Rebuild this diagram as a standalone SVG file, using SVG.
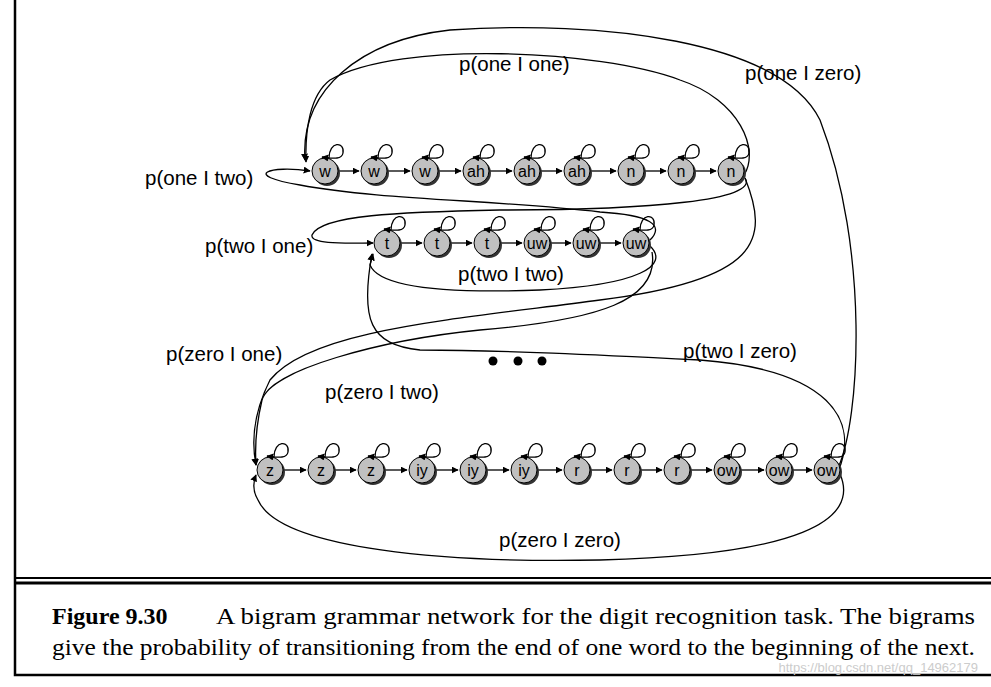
<svg xmlns="http://www.w3.org/2000/svg" width="991" height="687" viewBox="0 0 991 687">
<defs>
<marker id="ah" viewBox="0 0 10 10" refX="9" refY="5" markerWidth="7" markerHeight="7" orient="auto-start-reverse" markerUnits="userSpaceOnUse"><path d="M0,0 L10,5 L0,10 z" fill="#000"/></marker>
<g id="nd"><circle cx="2" cy="2" r="13" fill="#333"/><circle r="13" fill="#c0c0c0" stroke="#000" stroke-width="1"/></g>
<path id="sl" d="M4,-13 C4,-30 20,-30 18,-18 C17,-12 10,-12 -3,-14" fill="none" stroke="#000" stroke-width="1.3" marker-end="url(#ah)"/>
</defs>
<style>
.c{fill:none;stroke:#000;stroke-width:1.3}
.a{marker-end:url(#ah)}
.l{font-family:"Liberation Sans",Arial,sans-serif;font-size:20.5px;fill:#000}
.n{font-family:"Liberation Sans",Arial,sans-serif;font-size:16px;fill:#000;text-anchor:middle}
.cap{font-family:"Liberation Serif","Times New Roman",serif;font-size:24px;fill:#000}
</style>
<rect width="991" height="687" fill="#fff"/>
<g id="frame" fill="none" stroke="#000">
<path d="M15,0 V675 H991" stroke-width="2.5"/>
<line x1="15" y1="578" x2="991" y2="578" stroke-width="2"/>
<line x1="15" y1="583" x2="991" y2="583" stroke-width="3"/>
</g>
<g id="connectors">
<g class="c a">
<line x1="339" y1="171" x2="359" y2="171"/><line x1="388" y1="171" x2="410" y2="171"/><line x1="439" y1="171" x2="461" y2="171"/><line x1="490" y1="171" x2="512" y2="171"/><line x1="541" y1="171" x2="562" y2="171"/><line x1="591" y1="171" x2="616" y2="171"/><line x1="645" y1="171" x2="666" y2="171"/><line x1="695" y1="171" x2="716" y2="171"/>
<line x1="401" y1="243" x2="422" y2="243"/><line x1="451" y1="243" x2="472" y2="243"/><line x1="501" y1="243" x2="522" y2="243"/><line x1="551" y1="243" x2="571" y2="243"/><line x1="600" y1="243" x2="621" y2="243"/>
<line x1="284" y1="470" x2="306" y2="470"/><line x1="335" y1="470" x2="356" y2="470"/><line x1="385" y1="470" x2="407" y2="470"/><line x1="436" y1="470" x2="458" y2="470"/><line x1="487" y1="470" x2="509" y2="470"/><line x1="538" y1="470" x2="562" y2="470"/><line x1="591" y1="470" x2="612" y2="470"/><line x1="641" y1="470" x2="662" y2="470"/><line x1="691" y1="470" x2="712" y2="470"/><line x1="741" y1="470" x2="764" y2="470"/><line x1="793" y1="470" x2="812" y2="470"/>
</g>
<g class="c a">
<path d="M744,175 C760,150 740,100 680,80 C600,50 400,40 330,80 C310,95 305,130 306,162"/>
<path d="M838,468 C860,420 870,250 820,120 C780,40 600,20 450,30 C360,40 300,90 305,160"/>
<path d="M650,240 C665,225 650,215 600,212 C500,200 380,200 300,185 C240,175 270,165 310,171"/>
<path d="M745,178 C760,200 650,210 500,210 C400,212 320,215 312,235 C310,245 350,243 373,243"/>
<path d="M650,246 C670,265 640,285 540,290 C460,293 380,290 370,265 L373,254"/>
<path d="M838,472 C860,420 830,370 700,360 C600,355 500,350 420,350 C370,345 360,320 372,254"/>
<path d="M745,178 C770,240 760,280 600,300 C450,320 310,330 270,380 C250,420 253,450 256,465"/>
<path d="M652,252 C660,300 600,320 480,330 C380,340 270,370 262,400 C255,430 255,450 256,465"/>
<path d="M840,474 C860,520 800,555 600,560 C450,563 280,550 258,500 C252,490 254,480 256,475"/>
</g>
</g>
<g id="dots" fill="#000"><circle cx="493" cy="361" r="4.5"/><circle cx="518" cy="361" r="4.5"/><circle cx="542" cy="361" r="4.5"/></g>
<g id="labels">
<text class="l" x="459" y="71">p(one I one)</text>
<text class="l" x="745" y="80">p(one I zero)</text>
<text class="l" x="145" y="185">p(one I two)</text>
<text class="l" x="205" y="253">p(two I one)</text>
<text class="l" x="458" y="281">p(two I two)</text>
<text class="l" x="166" y="361">p(zero I one)</text>
<text class="l" x="683" y="358">p(two I zero)</text>
<text class="l" x="325" y="399">p(zero I two)</text>
<text class="l" x="499" y="547">p(zero I zero)</text>
</g>
<g id="nodes">
<g id="n1" transform="translate(325,171)"><use href="#nd"/><use href="#sl"/><text class="n" y="6">w</text></g>
<g id="n2" transform="translate(374,171)"><use href="#nd"/><use href="#sl"/><text class="n" y="6">w</text></g>
<g id="n3" transform="translate(425,171)"><use href="#nd"/><use href="#sl"/><text class="n" y="6">w</text></g>
<g id="n4" transform="translate(476,171)"><use href="#nd"/><use href="#sl"/><text class="n" y="6">ah</text></g>
<g id="n5" transform="translate(527,171)"><use href="#nd"/><use href="#sl"/><text class="n" y="6">ah</text></g>
<g id="n6" transform="translate(577,171)"><use href="#nd"/><use href="#sl"/><text class="n" y="6">ah</text></g>
<g id="n7" transform="translate(631,171)"><use href="#nd"/><use href="#sl"/><text class="n" y="6">n</text></g>
<g id="n8" transform="translate(681,171)"><use href="#nd"/><use href="#sl"/><text class="n" y="6">n</text></g>
<g id="n9" transform="translate(731,171)"><use href="#nd"/><use href="#sl"/><text class="n" y="6">n</text></g>
<g id="t1" transform="translate(387,243)"><use href="#nd"/><use href="#sl"/><text class="n" y="6">t</text></g>
<g id="t2" transform="translate(437,243)"><use href="#nd"/><use href="#sl"/><text class="n" y="6">t</text></g>
<g id="t3" transform="translate(487,243)"><use href="#nd"/><use href="#sl"/><text class="n" y="6">t</text></g>
<g id="t4" transform="translate(537,243)"><use href="#nd"/><use href="#sl"/><text class="n" y="6">uw</text></g>
<g id="t5" transform="translate(586,243)"><use href="#nd"/><use href="#sl"/><text class="n" y="6">uw</text></g>
<g id="t6" transform="translate(636,243)"><use href="#nd"/><use href="#sl"/><text class="n" y="6">uw</text></g>
<g id="z1" transform="translate(270,470)"><use href="#nd"/><use href="#sl"/><text class="n" y="6">z</text></g>
<g id="z2" transform="translate(321,470)"><use href="#nd"/><use href="#sl"/><text class="n" y="6">z</text></g>
<g id="z3" transform="translate(371,470)"><use href="#nd"/><use href="#sl"/><text class="n" y="6">z</text></g>
<g id="z4" transform="translate(422,470)"><use href="#nd"/><use href="#sl"/><text class="n" y="6">iy</text></g>
<g id="z5" transform="translate(473,470)"><use href="#nd"/><use href="#sl"/><text class="n" y="6">iy</text></g>
<g id="z6" transform="translate(524,470)"><use href="#nd"/><use href="#sl"/><text class="n" y="6">iy</text></g>
<g id="z7" transform="translate(577,470)"><use href="#nd"/><use href="#sl"/><text class="n" y="6">r</text></g>
<g id="z8" transform="translate(627,470)"><use href="#nd"/><use href="#sl"/><text class="n" y="6">r</text></g>
<g id="z9" transform="translate(677,470)"><use href="#nd"/><use href="#sl"/><text class="n" y="6">r</text></g>
<g id="z10" transform="translate(727,470)"><use href="#nd"/><use href="#sl"/><text class="n" y="6">ow</text></g>
<g id="z11" transform="translate(779,470)"><use href="#nd"/><use href="#sl"/><text class="n" y="6">ow</text></g>
<g id="z12" transform="translate(827,470)"><use href="#nd"/><use href="#sl"/><text class="n" y="6">ow</text></g>
</g>
<g id="caption">
<text class="cap" x="52" y="624" font-weight="bold">Figure 9.30</text>
<text class="cap" x="216" y="624" textLength="759" lengthAdjust="spacingAndGlyphs">A bigram grammar network for the digit recognition task.  The bigrams</text>
<text class="cap" x="52" y="655" textLength="923" lengthAdjust="spacingAndGlyphs">give the probability of transitioning from the end of one word to the beginning of the next.</text>
<text x="978" y="672" font-family="Liberation Sans,sans-serif" font-size="13" fill="#ccc" text-anchor="end">https://blog.csdn.net/qq_14962179</text>
</g>
</svg>
